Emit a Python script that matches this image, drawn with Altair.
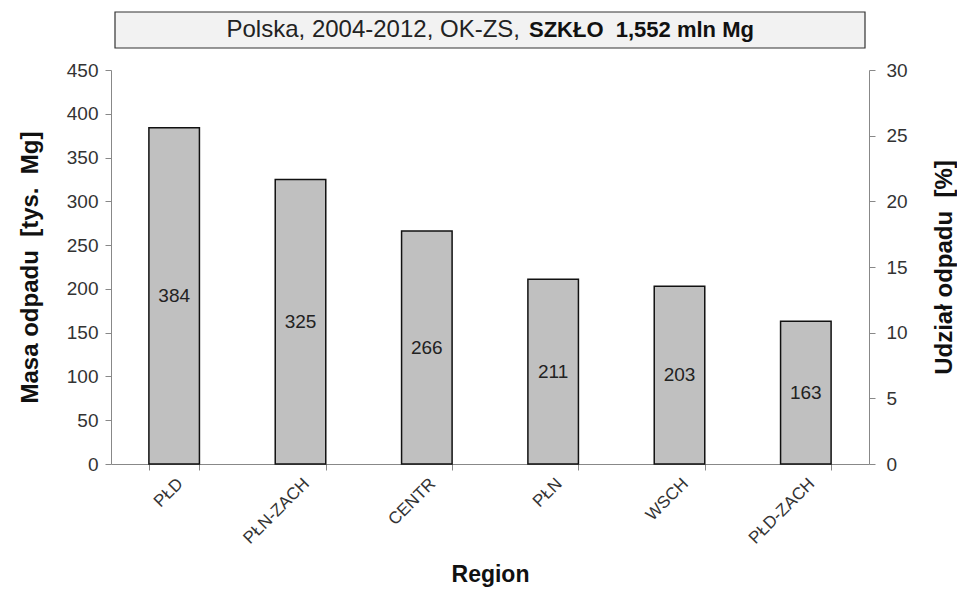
import altair as alt
import pandas as pd

regions = ["PŁD", "PŁN-ZACH", "CENTR", "PŁN", "WSCH", "PŁD-ZACH"]
masa = [384, 325, 266, 211, 203, 163]
total_mln = 1.552
title_normal = "Polska, 2004-2012, OK-ZS,"
title_bold = "SZKŁO\u00a0\u00a01,552 mln Mg"
y_left_title = "Masa odpadu\u00a0\u00a0[tys.\u00a0\u00a0Mg]"
y_right_title = "Udział odpadu\u00a0\u00a0[%]"

df = pd.DataFrame({"region": regions, "masa": masa})
df["mid"] = df["masa"] / 2
df["udzial"] = df["masa"] / (total_mln * 1000) * 100

FONT = "Liberation Sans"

x_enc = alt.X(
    "region:N",
    sort=regions,
    scale=alt.Scale(paddingInner=0.6, paddingOuter=0.3),
    axis=alt.Axis(
        title="Region",
        labelAngle=-45,
        tickBand="extent",
        labelFontSize=17,
        labelColor="#333333",
        titleFontSize=23,
        titlePadding=17,
        labelPadding=5,
    ),
)

y_scale = alt.Scale(domain=[0, 450], nice=False)
y_axis = alt.Axis(
    title=y_left_title,
    values=list(range(0, 451, 50)),
    titlePadding=24,
    labelPadding=7,
)

bars = alt.Chart(df).mark_bar(
    color="#c0c0c0", stroke="#111111", strokeWidth=1.5
).encode(
    x=x_enc,
    y=alt.Y("masa:Q", scale=y_scale, axis=y_axis),
)

labels = alt.Chart(df).mark_text(
    font=FONT, fontSize=19, color="#222222", baseline="middle"
).encode(
    x=alt.X("region:N", sort=regions),
    y=alt.Y("mid:Q", scale=y_scale, axis=y_axis),
    text=alt.Text("masa:Q"),
)

left = alt.layer(bars, labels)

right = alt.Chart(df).mark_point(opacity=0).encode(
    x=alt.X("region:N", sort=regions),
    y=alt.Y(
        "udzial:Q",
        scale=alt.Scale(domain=[0, 30], nice=False),
        axis=alt.Axis(
            orient="right",
            title=y_right_title,
            values=list(range(0, 31, 5)),
            titleAngle=270,
            titleBaseline="alphabetic",
            titlePadding=44,
            labelPadding=11,
        ),
    ),
)

tdf = pd.DataFrame({"normal": [title_normal], "bold": [title_bold]})
box = alt.Chart(tdf).mark_rect(
    fill="#f2f2f2", stroke="#333333", strokeWidth=1.2
).encode(
    x=alt.value(4), x2=alt.value(754), y=alt.value(-58), y2=alt.value(-22)
)
t1 = alt.Chart(tdf).mark_text(
    font=FONT, fontSize=24, color="#222222", align="right", baseline="middle"
).encode(x=alt.value(409), y=alt.value(-40), text="normal:N")
t2 = alt.Chart(tdf).mark_text(
    font=FONT, fontSize=22, fontWeight="bold", color="#111111",
    align="left", baseline="middle"
).encode(x=alt.value(418), y=alt.value(-40), text="bold:N")

chart = alt.layer(left, right, box, t1, t2).resolve_scale(
    y="independent"
).properties(
    width=758,
    height=394,
    autosize=alt.AutoSizeParams(type="none"),
    padding={"left": 103, "top": 62, "right": 88, "bottom": 130},
).configure_view(
    stroke=None
).configure_axis(
    labelFont=FONT,
    titleFont=FONT,
    labelFontSize=19,
    labelColor="#333333",
    titleFontSize=24,
    titleFontWeight="bold",
    titleColor="#111111",
    domainColor="#888888",
    tickColor="#888888",
    tickSize=6,
    grid=False,
)

chart.save("out.html", embed_options={"renderer": "svg", "actions": False})
